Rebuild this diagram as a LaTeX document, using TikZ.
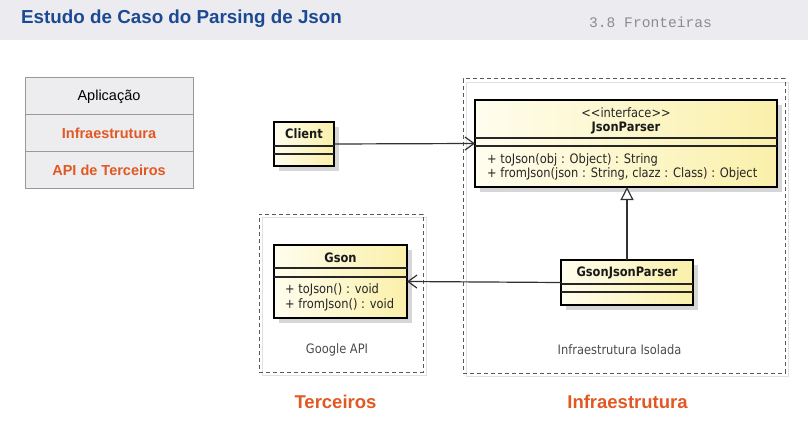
\documentclass[tikz,border=0pt]{standalone}
\usepackage{fontspec}
\setmainfont{Liberation Sans}
\newfontfamily\hdrmono{Liberation Mono}
\newfontfamily\umlfont[FakeStretch=0.88]{DejaVu Sans}
\usetikzlibrary{arrows.meta,calc,shadows}
\definecolor{titleblue}{RGB}{28,74,146}
\definecolor{hdrgray}{RGB}{236,236,240}
\definecolor{orng}{RGB}{226,88,34}
\definecolor{layergray}{RGB}{237,237,240}
\definecolor{umlA}{RGB}{255,253,238}
\definecolor{umlB}{RGB}{250,240,170}
\definecolor{conn}{RGB}{50,50,50}
\tikzset{
  umlbox/.style={draw=black, line width=2.2pt, left color=umlA, right color=umlB,
    inner sep=0pt, outer sep=0pt,
    drop shadow={shadow xshift=5pt, shadow yshift=-5pt, fill=black!16, opacity=1}},
  compline/.style={draw=black!85, line width=1.1pt},
  umltext/.style={font=\umlfont\fontsize{13}{15}\selectfont, inner sep=0pt, text=black!85},
  umlname/.style={font=\umlfont\bfseries\fontsize{13}{15}\selectfont, inner sep=0pt, text=black!90},
  container/.style={draw=black!65, line width=1pt, dash pattern=on 4pt off 3pt,
    inner sep=0pt, outer sep=0pt},
  faintbox/.style={draw=black!12, line width=0.8pt},
  layer/.style={draw=black!40, line width=0.9pt, fill=layergray, minimum width=168pt,
    minimum height=37.3pt, inner sep=0pt, outer sep=0pt},
  layertext/.style={font=\fontsize{14.5}{16}\selectfont},
  conline/.style={draw=conn, line width=1.2pt},
  openarrow/.style={conline, -{Straight Barb[length=9pt,width=13pt,line width=1.2pt]}},
  realize/.style={conline, -{Triangle[open,length=13pt,width=13pt,line width=1.2pt,fill=white]}},
  biglabel/.style={font=\bfseries\fontsize{18.5}{20}\selectfont, text=orng, inner sep=0pt}
}
\begin{document}
\begin{tikzpicture}[x=1pt,y=-1pt]
\useasboundingbox (0,0) rectangle (808,441);
\fill[white] (0,0) rectangle (808,441);
% header
\fill[hdrgray] (0,0) rectangle (808,40.5);
\node[font=\bfseries\fontsize{18.8}{21}\selectfont, text=titleblue, anchor=west, inner sep=0pt] (title) at (21,18.5) {Estudo de Caso do Parsing de Json};
\node[font=\hdrmono\fontsize{14.6}{16}\selectfont, text=black!45, anchor=west, inner sep=0pt] (section) at (589,22.5) {3.8 Fronteiras};

% layers
\node[layer] (lapp) at (109,95.65) {};
\node[layer] (linfra) at (109,132.95) {};
\node[layer] (lapi) at (109,170.25) {};
\node[layertext] (tapp) at ($(lapp)+(0,1)$) {Aplicação};
\node[layertext, font=\bfseries\fontsize{14.5}{16}\selectfont, text=orng] (tinfra) at (linfra) {Infraestrutura};
\node[layertext, font=\bfseries\fontsize{14.5}{16}\selectfont, text=orng] (tapi) at (lapi) {API de Terceiros};

% containers
\draw[faintbox] (466,82) rectangle (788,376);
\node[container, minimum width=322pt, minimum height=294pt] (infra) at (624,226) {};
\draw[faintbox] (262,217) rectangle (426,375);
\node[container, minimum width=164pt, minimum height=158pt] (google) at (341,293) {};
\node[umltext, text=black!70] (lgoogle) at (337,350) {Google API};
\node[umltext, text=black!70] (linfraiso) at (619.5,350) {Infraestrutura Isolada};

% Client
\node[umlbox, minimum width=60pt, minimum height=44pt] (client) at (304,144) {};
\draw[compline] ($(client.north west)+(0,24)$) -- ($(client.north east)+(0,24)$);
\draw[compline] ($(client.north west)+(0,32)$) -- ($(client.north east)+(0,32)$);
\node[umlname] (tclient) at (304,134) {Client};

% JsonParser
\node[umlbox, minimum width=302pt, minimum height=87pt] (jp) at (626,143.5) {};
\draw[compline] ($(jp.north west)+(0,38)$) -- ($(jp.north east)+(0,38)$);
\draw[compline] ($(jp.north west)+(0,46)$) -- ($(jp.north east)+(0,46)$);
\node[umltext] (jpst) at (626,113) {<<interface>>};
\node[umlname] (jpname) at (626,128) {JsonParser};
\node[umltext, anchor=west] (jpm1) at (487,160) {+ toJson(obj : Object) : String};
\node[umltext, anchor=west] (jpm2) at (487,173.5) {+ fromJson(json : String, clazz : Class) : Object};

% Gson
\node[umlbox, minimum width=133pt, minimum height=73pt] (gson) at (340.5,281.5) {};
\draw[compline] ($(gson.north west)+(0,23)$) -- ($(gson.north east)+(0,23)$);
\draw[compline] ($(gson.north west)+(0,32)$) -- ($(gson.north east)+(0,32)$);
\node[umlname] (gsonname) at (340.5,258) {Gson};
\node[umltext, anchor=west] (gm1) at (285,290) {+ toJson() : void};
\node[umltext, anchor=west] (gm2) at (285,305) {+ fromJson() : void};

% GsonJsonParser
\node[umlbox, minimum width=132pt, minimum height=45pt] (gjp) at (627,282.5) {};
\draw[compline] ($(gjp.north west)+(0,24)$) -- ($(gjp.north east)+(0,24)$);
\draw[compline] ($(gjp.north west)+(0,32)$) -- ($(gjp.north east)+(0,32)$);
\node[umlname] (gjpname) at (627,273) {GsonJsonParser};

% connectors
\draw[openarrow] (client.east) -- (jp.west);
\draw[openarrow] (gjp.west) -- (gson.east);
\draw[realize] (gjp.north) -- (gjp.north |- jp.south);

% bottom labels
\node[biglabel] (bter) at (335.5,402) {Terceiros};
\node[biglabel] (binf) at (627.5,402) {Infraestrutura};
\end{tikzpicture}
\end{document}
